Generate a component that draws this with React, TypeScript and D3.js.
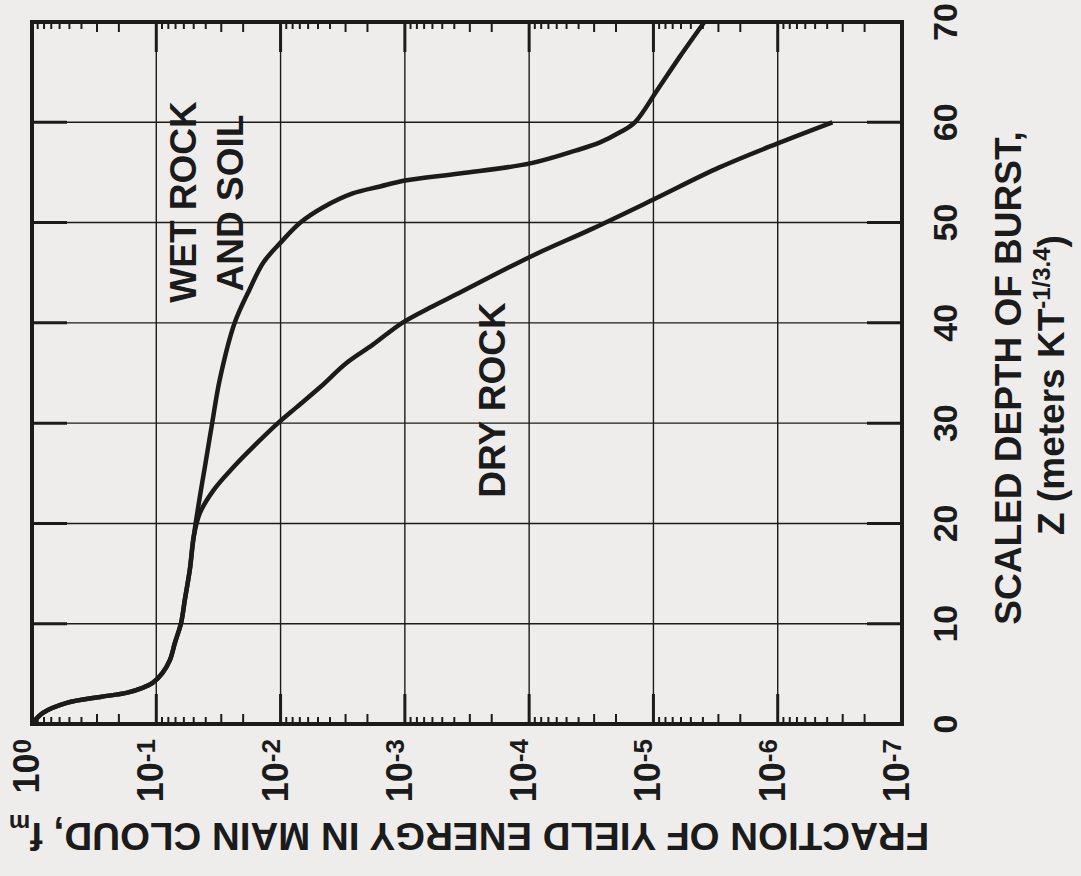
import React from "react";
import * as d3 from "d3";

// Scaled depth of burst Z (meters KT^-1/3.4) and fraction of yield energy in main cloud f_m
const depthTicks = [0, 10, 20, 30, 40, 50, 60, 70];
const decadeExponents = [0, -1, -2, -3, -4, -5, -6, -7];
const minorMultipliers = [2, 3, 4, 5, 6, 7, 8, 9];

// shared low-depth branch (both media coincide)
const commonZ = [0, 1.1, 2.1, 2.7, 3.1, 3.6, 4.1, 5.1, 6.4, 8.1, 10.1, 12.4, 15.4, 18.6];
const commonF = [1, 0.817, 0.525, 0.282, 0.174, 0.129, 0.107, 0.0891, 0.0776, 0.0708, 0.0631, 0.0589, 0.0537, 0.0501];

// WET ROCK AND SOIL
const wetZ = [22.6, 25.6, 30.0, 34.3, 40.0, 43.3, 46.0, 48.0, 50.0, 51.5, 52.9, 53.6, 54.2, 54.9, 55.9, 57.2, 58.0, 59.0, 60.0, 63.2, 66.5, 70.0];
const wetF = [0.0447, 0.0407, 0.0355, 0.0309, 0.0234, 0.0178, 0.0138, 0.01, 0.00692, 0.00457, 0.00263, 0.00158, 0.001, 0.000363, 0.0000977, 0.0000417, 0.0000269, 0.0000186, 0.0000141, 0.00000933, 0.00000617, 0.00000389];

// DRY ROCK
const dryZ = [21.0, 23.3, 25.6, 28.0, 30.0, 31.6, 33.6, 36.0, 37.8, 40.0, 41.5, 43.0, 46.6, 49.4, 52.3, 55.5, 57.9, 60.0];
const dryF = [0.0447, 0.0347, 0.024, 0.0155, 0.0105, 0.00741, 0.00479, 0.00295, 0.00182, 0.00105, 0.000631, 0.000363, 0.0000977, 0.0000309, 0.00001, 0.00000295, 0.000001, 0.000000363];

const W = 1081;
const H = 876;
const INK = "#1b1b1b";
const FONT = "'Liberation Sans', Arial, Helvetica, sans-serif";

export default function App() {
  const left = 32, right = 902, top = 22, bottom = 724;
  const x = d3.scaleLog().domain([1, 1e-7]).range([left, right]);
  const y = d3.scaleLinear().domain([0, 70]).range([bottom, top]);

  const line = d3
    .line<[number, number]>()
    .x((d) => x(d[1]))
    .y((d) => y(d[0]))
    .curve(d3.curveCatmullRom.alpha(0.5));

  const wetPts: [number, number][] = [
    ...commonZ.map((z, i) => [z, commonF[i]] as [number, number]),
    ...wetZ.map((z, i) => [z, wetF[i]] as [number, number]),
  ];
  const dryPts: [number, number][] = [
    ...commonZ.map((z, i) => [z, commonF[i]] as [number, number]),
    ...dryZ.map((z, i) => [z, dryF[i]] as [number, number]),
  ];

  const minor: { v: number; k: number }[] = [];
  decadeExponents.slice(0, -1).forEach((e) => {
    minorMultipliers.forEach((k) => minor.push({ v: k * Math.pow(10, e - 1), k }));
  });

  return (
    <svg
      width={W}
      height={H}
      viewBox={`0 0 ${W} ${H}`}
      style={{ position: "absolute", left: 0, top: 0, display: "block" }}
      fontFamily={FONT}
      fontWeight="bold"
    >
      <rect x={0} y={0} width={W} height={H} fill="#eeedeb" />

      {/* grid */}
      {decadeExponents.map((e) => (
        <line key={"gx" + e} x1={x(Math.pow(10, e))} x2={x(Math.pow(10, e))} y1={top} y2={bottom} stroke={INK} strokeWidth={1.4} />
      ))}
      {depthTicks.map((z) => (
        <line key={"gy" + z} x1={left} x2={right} y1={y(z)} y2={y(z)} stroke={INK} strokeWidth={1.4} />
      ))}

      {/* major ticks (thick inner segments) */}
      {decadeExponents.slice(1, -1).map((e) => (
        <g key={"mt" + e}>
          <line x1={x(Math.pow(10, e))} x2={x(Math.pow(10, e))} y1={top} y2={top + 30} stroke={INK} strokeWidth={3} />
          <line x1={x(Math.pow(10, e))} x2={x(Math.pow(10, e))} y1={bottom} y2={bottom - 30} stroke={INK} strokeWidth={3} />
        </g>
      ))}
      {depthTicks.slice(1, -1).map((z) => (
        <g key={"zt" + z}>
          <line x1={left} x2={left + 35} y1={y(z)} y2={y(z)} stroke={INK} strokeWidth={3} />
          <line x1={right} x2={right - 35} y1={y(z)} y2={y(z)} stroke={INK} strokeWidth={3} />
        </g>
      ))}

      {/* minor log ticks */}
      {minor.map((m, i) => {
        const len = m.k <= 3 ? 10 : 7;
        const xx = x(m.v);
        return (
          <g key={"mn" + i}>
            <line x1={xx} x2={xx} y1={top} y2={top + len} stroke={INK} strokeWidth={2} />
            <line x1={xx} x2={xx} y1={bottom} y2={bottom - len} stroke={INK} strokeWidth={2} />
          </g>
        );
      })}

      {/* frame */}
      <rect x={left} y={top} width={right - left} height={bottom - top} fill="none" stroke={INK} strokeWidth={4} />

      {/* curves */}
      <path d={line(wetPts) || ""} fill="none" stroke={INK} strokeWidth={4.5} strokeLinejoin="round" />
      <path d={line(dryPts) || ""} fill="none" stroke={INK} strokeWidth={4.5} strokeLinejoin="round" />

      {/* curve labels */}
      <text transform={`translate(196,202) rotate(-90)`} textAnchor="middle" fontSize={37} fill={INK}>WET ROCK</text>
      <text transform={`translate(243,203) rotate(-90)`} textAnchor="middle" fontSize={37} fill={INK}>AND SOIL</text>
      <text transform={`translate(505,400) rotate(-90)`} textAnchor="middle" fontSize={37} fill={INK}>DRY ROCK</text>

      {/* f-axis tick labels */}
      {decadeExponents.map((e) => (
        <text key={"fl" + e} transform={`translate(${x(Math.pow(10, e)) + 7},739) rotate(-90)`} textAnchor="end" fill={INK}>
          <tspan fontSize={36}>10</tspan>
          <tspan fontSize={26} dy={-8}>{e === 0 ? "0" : String(e)}</tspan>
        </text>
      ))}

      {/* Z-axis tick labels */}
      {depthTicks.map((z) => (
        <text key={"zl" + z} transform={`translate(957,${y(z)}) rotate(-90)`} textAnchor="middle" fontSize={34} fill={INK}>
          {z}
        </text>
      ))}

      {/* Z-axis title */}
      <text transform={`translate(1021,378) rotate(-90)`} textAnchor="middle" fontSize={37} fill={INK}>
        SCALED DEPTH OF BURST,
      </text>
      <text transform={`translate(1064,385) rotate(-90)`} textAnchor="middle" fill={INK}>
        <tspan fontSize={37}>Z (meters KT</tspan>
        <tspan fontSize={24} dy={-14}>-1/3.4</tspan>
        <tspan fontSize={37} dy={14}>)</tspan>
      </text>

      {/* f-axis title (upside down) */}
      <text transform={`translate(469,823) rotate(180)`} textAnchor="middle" fill={INK}>
        <tspan fontSize={38.5}>FRACTION OF YIELD ENERGY IN MAIN CLOUD, f</tspan>
        <tspan fontSize={24} dy={8}>m</tspan>
      </text>
    </svg>
  );
}
